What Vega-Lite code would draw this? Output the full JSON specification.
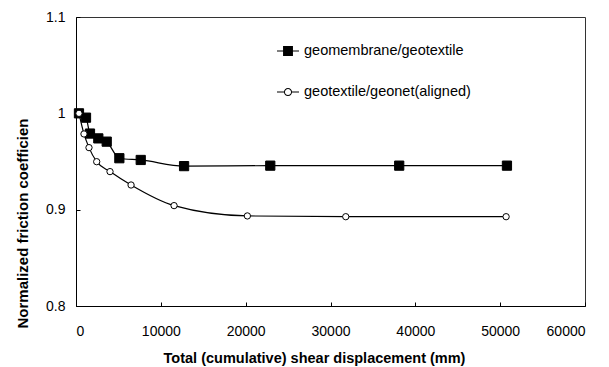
{
  "$schema": "https://vega.github.io/schema/vega-lite/v6.json",
  "width": 509,
  "height": 289,
  "autosize": "none",
  "padding": {"left": 76, "top": 17, "right": 24, "bottom": 61},
  "config": {
    "view": {"stroke": "#333", "strokeWidth": 1},
    "font": "Liberation Sans",
    "axis": {"grid": false, "domainColor": "#000", "tickColor": "#000", "labelColor": "#000", "titleColor": "#000", "labelFont": "Liberation Sans", "titleFont": "Liberation Sans", "labelFontSize": 14, "titleFontSize": 14.5, "titleFontWeight": "bold"}
  },
  "data": {
    "values": [
      {"series": "geomembrane/geotextile", "x": 350, "y": 1.0},
      {"series": "geomembrane/geotextile", "x": 1180, "y": 0.9955},
      {"series": "geomembrane/geotextile", "x": 1650, "y": 0.979},
      {"series": "geomembrane/geotextile", "x": 2630, "y": 0.974},
      {"series": "geomembrane/geotextile", "x": 3620, "y": 0.9706},
      {"series": "geomembrane/geotextile", "x": 5110, "y": 0.9534},
      {"series": "geomembrane/geotextile", "x": 7630, "y": 0.9516},
      {"series": "geomembrane/geotextile", "x": 12740, "y": 0.9452},
      {"series": "geomembrane/geotextile", "x": 22900, "y": 0.9457},
      {"series": "geomembrane/geotextile", "x": 38100, "y": 0.9457},
      {"series": "geomembrane/geotextile", "x": 50800, "y": 0.9457},
      {"series": "geotextile/geonet(aligned)", "x": 350, "y": 1.0},
      {"series": "geotextile/geonet(aligned)", "x": 940, "y": 0.9786},
      {"series": "geotextile/geonet(aligned)", "x": 1530, "y": 0.9644},
      {"series": "geotextile/geonet(aligned)", "x": 2440, "y": 0.9498},
      {"series": "geotextile/geonet(aligned)", "x": 4010, "y": 0.9395},
      {"series": "geotextile/geonet(aligned)", "x": 6490, "y": 0.9256},
      {"series": "geotextile/geonet(aligned)", "x": 11560, "y": 0.9042},
      {"series": "geotextile/geonet(aligned)", "x": 20200, "y": 0.8935},
      {"series": "geotextile/geonet(aligned)", "x": 31800, "y": 0.8927},
      {"series": "geotextile/geonet(aligned)", "x": 50700, "y": 0.8927}
    ]
  },
  "encoding": {
    "x": {
      "field": "x", "type": "quantitative",
      "scale": {"domain": [0, 60000], "nice": false},
      "axis": {
        "values": [0, 10000, 20000, 30000, 40000, 50000, 60000],
        "format": "d",
        "title": "Total (cumulative) shear displacement (mm)",
        "tickSize": -4, "labelPadding": 22,
        "titleX": 238, "titleY": 56, "titleAnchor": null, "titleAlign": "center", "titleBaseline": "alphabetic"
      }
    },
    "y": {
      "field": "y", "type": "quantitative",
      "scale": {"domain": [0.8, 1.1], "nice": false, "zero": false},
      "axis": {
        "values": [0.8, 0.9, 1.0, 1.1],
        "format": ".1~f",
        "title": "Normalized friction coefficien",
        "titleFontSize": 15,
        "tickSize": -4, "labelPadding": 15,
        "titleX": -54, "titleY": 206, "titleAngle": -90, "titleAlign": "center", "titleBaseline": "middle"
      }
    }
  },
  "layer": [
    {
      "mark": {"type": "line", "interpolate": "monotone", "stroke": "#000", "strokeWidth": 1.2},
      "encoding": {"detail": {"field": "series"}}
    },
    {
      "transform": [{"filter": "datum.series === 'geomembrane/geotextile'"}],
      "mark": {"type": "point", "shape": "square", "filled": true, "fill": "#000", "stroke": "#000", "strokeWidth": 1, "opacity": 1, "size": 85}
    },
    {
      "transform": [{"filter": "datum.series === 'geotextile/geonet(aligned)'"}],
      "mark": {"type": "point", "shape": "circle", "filled": true, "fill": "#fff", "stroke": "#000", "strokeWidth": 1, "opacity": 1, "size": 40}
    },
    {
      "mark": {"type": "point", "filled": true, "color": "#000", "fill": "#000", "opacity": 0},
      "encoding": {
        "shape": {
          "field": "series", "type": "nominal",
          "scale": {"domain": ["geomembrane/geotextile", "geotextile/geonet(aligned)"], "range": [
            "M-1,-0.05H-0.45V0.05H-1Z M-0.45,-0.45H0.45V0.45H-0.45Z M0.45,-0.05H1V0.05H0.45Z",
            "M-1,-0.05H-0.33V0.05H-1Z M0.33,-0.05H1V0.05H0.33Z M-0.37,0A0.37,0.37,0,1,1,0.37,0A0.37,0.37,0,1,1,-0.37,0Z M-0.28,0A0.28,0.28,0,1,0,0.28,0A0.28,0.28,0,1,0,-0.28,0Z"
          ]},
          "legend": {
            "title": null,
            "orient": "none",
            "legendX": 201,
            "legendY": 23,
            "padding": 0,
            "rowPadding": 23,
            "labelOffset": 5,
            "labelFontSize": 14.5,
            "labelFont": "Liberation Sans",
            "labelColor": "#000",
            "labelLimit": 300,
            "symbolSize": 484,
            "symbolStrokeWidth": 0,
            "symbolFillColor": "#000",
            "symbolOpacity": 1
          }
        }
      }
    }
  ]
}
